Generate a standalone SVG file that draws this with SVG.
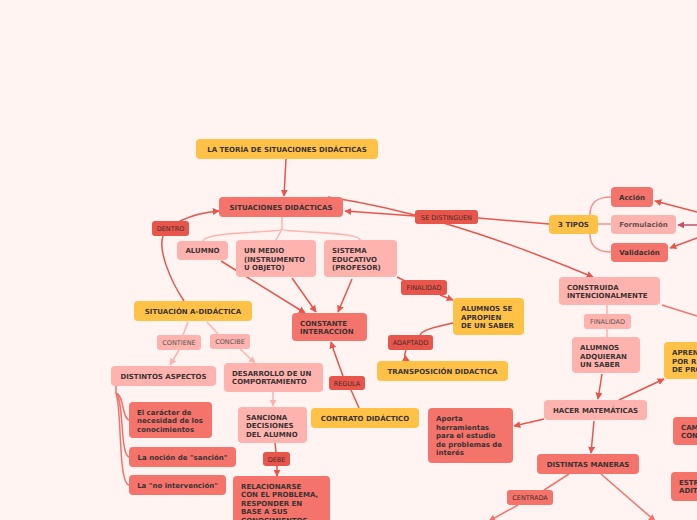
<svg xmlns="http://www.w3.org/2000/svg" width="697" height="520" viewBox="0 0 697 520">
<defs>
<style>
.n text{font-family:"DejaVu Sans",Verdana,sans-serif;font-size:7px;font-weight:bold;fill:#3b3333}
.l text{font-family:"DejaVu Sans",Verdana,sans-serif;font-size:6.5px;fill:#4a2c2c}
.y{fill:#ffc247}
.s{fill:#f4736b}
.p{fill:#ffb3ae}
.r{fill:#e8554a}
.c{text-anchor:middle}
#connectors path{fill:none;stroke-width:1.5}
.cr{stroke:#e8554a}
.cp{stroke:#ffb3ae}
.cs{stroke:#f4736b}
.ct{stroke:#f4938c;stroke-width:1.2}
.cd{stroke:#c4506a}
</style>
<marker id="ar" viewBox="0 0 10 10" refX="9" refY="5" markerWidth="7" markerHeight="7" markerUnits="userSpaceOnUse" orient="auto"><path d="M0,0L10,5L0,10z" fill="#e8554a"/></marker>
<marker id="ap" viewBox="0 0 10 10" refX="9" refY="5" markerWidth="7" markerHeight="7" markerUnits="userSpaceOnUse" orient="auto"><path d="M0,0L10,5L0,10z" fill="#ffb3ae"/></marker>
<marker id="as" viewBox="0 0 10 10" refX="9" refY="5" markerWidth="7" markerHeight="7" markerUnits="userSpaceOnUse" orient="auto"><path d="M0,0L10,5L0,10z" fill="#f4736b"/></marker>
<marker id="ad" viewBox="0 0 10 10" refX="9" refY="5" markerWidth="7" markerHeight="7" markerUnits="userSpaceOnUse" orient="auto"><path d="M0,0L10,5L0,10z" fill="#c4506a"/></marker>
</defs>
<rect width="697" height="520" fill="#fff4f2"/>
<g id="connectors">
<path class="cr" d="M286,159L284,196" marker-end="url(#ar)"/>
<path class="cp" d="M282,217L282,229C282,233 205,231 203,241"/>
<path class="cp" d="M282,229C282,233 360,231 360,240"/>
<path class="cp" d="M282,229L276,240"/>
<path class="cr" d="M184,301C170,280 158,250 163,236"/>
<path class="cr" d="M180,221C195,214 205,212 219,211" marker-end="url(#ar)"/>
<path class="cr" d="M549,224L478,218"/>
<path class="cr" d="M415,216L345,211" marker-end="url(#ar)"/>
<path class="cr" d="M328,197C400,208 480,230 593,277" marker-end="url(#ar)"/>
<path class="ct" d="M590,215C590,200 600,197 611,197"/>
<path class="ct" d="M598,224L611,224"/>
<path class="ct" d="M590,234C590,248 600,252 611,252"/>
<path class="cr" d="M697,212L655,201" marker-end="url(#ar)"/>
<path class="cd" d="M697,225L678,225" marker-end="url(#ad)"/>
<path class="cr" d="M697,238L670,248" marker-end="url(#ar)"/>
<path class="cr" d="M221,261L305,313" marker-end="url(#ar)"/>
<path class="cr" d="M292,278L316,312" marker-end="url(#ar)"/>
<path class="cr" d="M352,279L338,312" marker-end="url(#ar)"/>
<path class="cr" d="M397,277L405,281"/>
<path class="cr" d="M440,295L453,300" marker-end="url(#ar)"/>
<path class="cr" d="M453,323C435,327 422,330 420,335"/>
<path class="cr" d="M406,350C404,355 404,358 409,361" marker-end="url(#ar)"/>
<path class="cr" d="M359,408L351,390"/>
<path class="cr" d="M343,376C338,362 334,352 331,342" marker-end="url(#ar)"/>
<path class="cp" d="M188,322L183,335"/>
<path class="cp" d="M179,350L170,365" marker-end="url(#ap)"/>
<path class="cp" d="M207,322L218,334"/>
<path class="cp" d="M240,349L255,363" marker-end="url(#ap)"/>
<path class="cp" d="M273,392L273,406" marker-end="url(#ap)"/>
<path class="cr" d="M275,443L276,452"/>
<path class="cr" d="M277,466L277,476" marker-end="url(#ar)"/>
<path class="cs" d="M116,386L116,393C124,395 122,418 129,420"/>
<path class="cs" d="M116,393C124,400 120,455 129,457"/>
<path class="cs" d="M116,393C122,410 118,483 129,485"/>
<path class="cp" d="M607,305L607,337"/>
<path class="cr" d="M602,374L598,399" marker-end="url(#ar)"/>
<path class="cr" d="M619,400L664,379" marker-end="url(#ar)"/>
<path class="cr" d="M544,419L514,426" marker-end="url(#ar)"/>
<path class="cr" d="M594,421L591,453" marker-end="url(#ar)"/>
<path class="cs" d="M569,474L544,490"/>
<path class="cs" d="M518,505L489,521" marker-end="url(#as)"/>
<path class="cs" d="M601,474L655,521" marker-end="url(#as)"/>
<path class="cs" d="M662,305L697,316"/>
</g>
<g id="n-teoria" class="n"><rect class="y" x="196" y="139" width="182" height="20" rx="4"/><text class="c" x="287" y="151.5">LA TEORÍA DE SITUACIONES DIDÁCTICAS</text></g>
<g id="n-situaciones" class="n"><rect class="s" x="219" y="197" width="124" height="20" rx="4"/><text class="c" x="281" y="209.5">SITUACIONES DIDÁCTICAS</text></g>
<g id="n-alumno" class="n"><rect class="p" x="177" y="241" width="51" height="19" rx="4"/><text class="c" x="202.5" y="253">ALUMNO</text></g>
<g id="n-medio" class="n"><rect class="p" x="236" y="240" width="80" height="37" rx="4"/><text x="244" y="253"><tspan x="244">UN MEDIO</tspan><tspan x="244" dy="8.5">(INSTRUMENTO</tspan><tspan x="244" dy="8.5">U OBJETO)</tspan></text></g>
<g id="n-sistema" class="n"><rect class="p" x="324" y="240" width="73" height="37" rx="4"/><text x="332" y="253"><tspan x="332">SISTEMA</tspan><tspan x="332" dy="8.5">EDUCATIVO</tspan><tspan x="332" dy="8.5">(PROFESOR)</tspan></text></g>
<g id="n-constante" class="n"><rect class="s" x="292" y="313" width="75" height="28" rx="4"/><text x="300" y="325.5"><tspan x="300">CONSTANTE</tspan><tspan x="300" dy="8.5">INTERACCION</tspan></text></g>
<g id="l-finalidad1" class="l"><rect class="r" x="401" y="280" width="46" height="15" rx="3"/><text class="c" x="424" y="290">FINALIDAD</text></g>
<g id="n-apropien" class="n"><rect class="y" x="453" y="298" width="71" height="37" rx="4"/><text x="461" y="311"><tspan x="461">ALUMNOS SE</tspan><tspan x="461" dy="8.5">APROPIEN</tspan><tspan x="461" dy="8.5">DE UN SABER</tspan></text></g>
<g id="l-adaptado" class="l"><rect class="r" x="388" y="335" width="45" height="15" rx="3"/><text class="c" x="410.5" y="345">ADAPTADO</text></g>
<g id="n-transposicion" class="n"><rect class="y" x="377" y="361" width="131" height="20" rx="4"/><text class="c" x="442.5" y="373.5">TRANSPOSICIÓN DIDACTICA</text></g>
<g id="l-regula" class="l"><rect class="r" x="329" y="376" width="36" height="14" rx="3"/><text class="c" x="347" y="385.5">REGULA</text></g>
<g id="n-contrato" class="n"><rect class="y" x="311" y="408" width="108" height="20" rx="4"/><text class="c" x="365" y="420.5">CONTRATO DIDÁCTICO</text></g>
<g id="n-situacion-a" class="n"><rect class="y" x="134" y="301" width="118" height="20" rx="4"/><text class="c" x="193" y="313.5">SITUACIÓN A-DIDÁCTICA</text></g>
<g id="l-contiene" class="l"><rect class="p" x="157" y="335" width="44" height="15" rx="3"/><text class="c" x="179" y="345" style="fill:#555">CONTIENE</text></g>
<g id="l-concibe" class="l"><rect class="p" x="210" y="334" width="40" height="15" rx="3"/><text class="c" x="230" y="344" style="fill:#555">CONCIBE</text></g>
<g id="n-distintos-aspectos" class="n"><rect class="p" x="111" y="366" width="105" height="20" rx="4"/><text class="c" x="163.5" y="378.5">DISTINTOS ASPECTOS</text></g>
<g id="n-desarrollo" class="n"><rect class="p" x="224" y="363" width="99" height="29" rx="4"/><text x="232" y="375.5"><tspan x="232">DESARROLLO DE UN</tspan><tspan x="232" dy="8.5">COMPORTAMIENTO</tspan></text></g>
<g id="n-sanciona" class="n"><rect class="p" x="238" y="407" width="69" height="36" rx="4"/><text x="246" y="419.5"><tspan x="246">SANCIONA</tspan><tspan x="246" dy="8.5">DECISIONES</tspan><tspan x="246" dy="8.5">DEL ALUMNO</tspan></text></g>
<g id="l-debe" class="l"><rect class="r" x="263" y="452" width="27" height="14" rx="3"/><text class="c" x="276.5" y="461.5">DEBE</text></g>
<g id="n-relacionarse" class="n"><rect class="s" x="233" y="476" width="97" height="60" rx="4"/><text x="241" y="488.5"><tspan x="241">RELACIONARSE</tspan><tspan x="241" dy="8.5">CON EL PROBLEMA,</tspan><tspan x="241" dy="8.5">RESPONDER EN</tspan><tspan x="241" dy="8.5">BASE A SUS</tspan><tspan x="241" dy="8.5">CONOCIMIENTOS</tspan></text></g>
<g id="n-caracter" class="n"><rect class="s" x="129" y="402" width="83" height="36" rx="4"/><text x="137" y="414.5"><tspan x="137">El carácter de</tspan><tspan x="137" dy="8.5">necesidad de los</tspan><tspan x="137" dy="8.5">conocimientos</tspan></text></g>
<g id="n-sancion" class="n"><rect class="s" x="129" y="447" width="107" height="20" rx="4"/><text class="c" x="182.5" y="459.5">La noción de "sanción"</text></g>
<g id="n-nointervencion" class="n"><rect class="s" x="129" y="475" width="97" height="20" rx="4"/><text class="c" x="177.5" y="487.5">La "no intervención"</text></g>
<g id="l-dentro" class="l"><rect class="r" x="152" y="221" width="37" height="15" rx="3"/><text class="c" x="170.5" y="231">DENTRO</text></g>
<g id="l-distinguen" class="l"><rect class="r" x="415" y="210" width="63" height="14" rx="3"/><text class="c" x="446.5" y="219.5">SE DISTINGUEN</text></g>
<g id="n-3tipos" class="n"><rect class="y" x="549" y="215" width="49" height="19" rx="4"/><text class="c" x="573.5" y="227">3 TIPOS</text></g>
<g id="n-accion" class="n"><rect class="s" x="611" y="187" width="42" height="20" rx="4"/><text class="c" x="632" y="199.5">Acción</text></g>
<g id="n-formulacion" class="n"><rect class="p" x="611" y="215" width="65" height="19" rx="4"/><text class="c" x="643.5" y="227" style="fill:#6a5050">Formulación</text></g>
<g id="n-validacion" class="n"><rect class="s" x="611" y="243" width="57" height="19" rx="4"/><text class="c" x="639.5" y="255">Validación</text></g>
<g id="n-construida" class="n"><rect class="p" x="559" y="277" width="101" height="28" rx="4"/><text x="567" y="289.5"><tspan x="567">CONSTRUIDA</tspan><tspan x="567" dy="8.5">INTENCIONALMENTE</tspan></text></g>
<g id="l-finalidad2" class="l"><rect class="p" x="584" y="314" width="47" height="15" rx="3"/><text class="c" x="607.5" y="324" style="fill:#555">FINALIDAD</text></g>
<g id="n-adquieran" class="n"><rect class="p" x="572" y="337" width="68" height="36" rx="4"/><text x="580" y="350"><tspan x="580">ALUMNOS</tspan><tspan x="580" dy="8.5">ADQUIERAN</tspan><tspan x="580" dy="8.5">UN SABER</tspan></text></g>
<g id="n-hacer" class="n"><rect class="p" x="544" y="400" width="103" height="20" rx="4"/><text class="c" x="595.5" y="412.5">HACER MATEMÁTICAS</text></g>
<g id="n-aprender" class="n"><rect class="y" x="664" y="342" width="50" height="37" rx="4"/><text x="672" y="355"><tspan x="672">APREN</tspan><tspan x="672" dy="8.5">POR R</tspan><tspan x="672" dy="8.5">DE PRO</tspan></text></g>
<g id="n-cam" class="n"><rect class="s" x="673" y="417" width="40" height="28" rx="4"/><text x="681" y="429.5"><tspan x="681">CAM</tspan><tspan x="681" dy="8.5">CON</tspan></text></g>
<g id="n-estr" class="n"><rect class="s" x="671" y="472" width="40" height="29" rx="4"/><text x="679" y="484.5"><tspan x="679">ESTR</tspan><tspan x="679" dy="8.5">ADITI</tspan></text></g>
<g id="n-aporta" class="n"><rect class="s" x="428" y="408" width="85" height="55" rx="4"/><text x="436" y="421"><tspan x="436">Aporta</tspan><tspan x="436" dy="8.5">herramientas</tspan><tspan x="436" dy="8.5">para el estudio</tspan><tspan x="436" dy="8.5">de problemas de</tspan><tspan x="436" dy="8.5">interés</tspan></text></g>
<g id="n-maneras" class="n"><rect class="s" x="537" y="454" width="102" height="20" rx="4"/><text class="c" x="588" y="466.5">DISTINTAS MANERAS</text></g>
<g id="l-centrada" class="l"><rect class="s" x="507" y="490" width="46" height="15" rx="3"/><text class="c" x="530" y="500">CENTRADA</text></g>
</svg>
